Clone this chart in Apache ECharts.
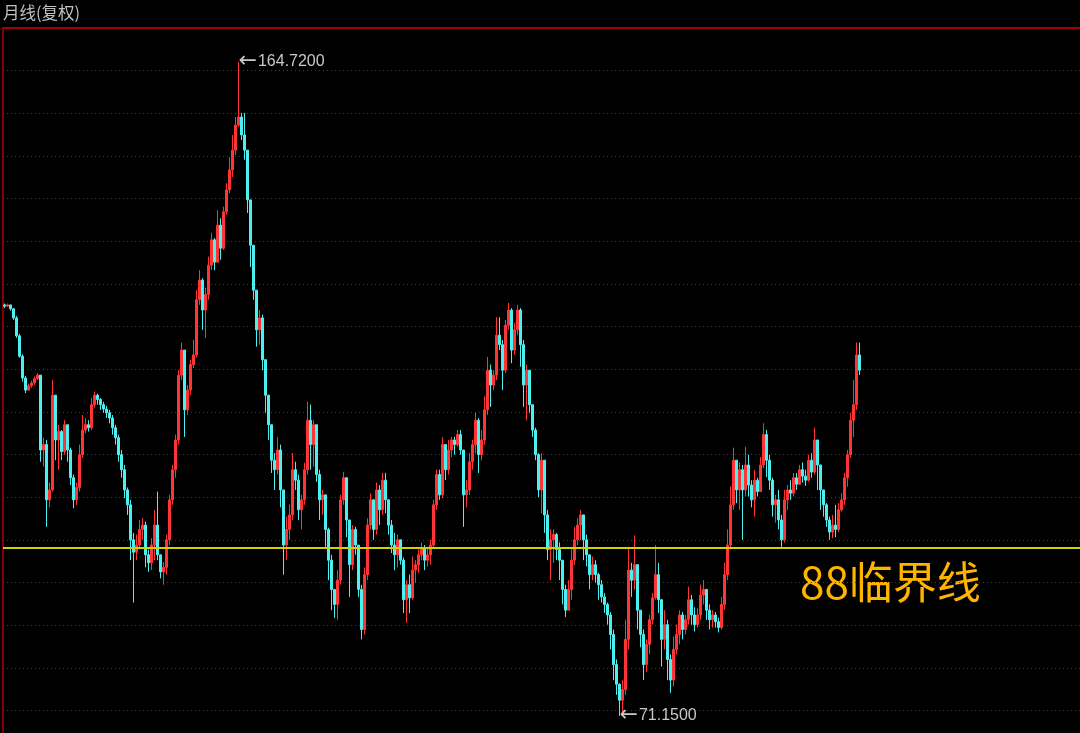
<!DOCTYPE html>
<html><head><meta charset="utf-8">
<script src="https://cdn.jsdelivr.net/npm/echarts@6/dist/echarts.min.js"></script>
<style>html,body{margin:0;padding:0;background:#000}#c{width:1080px;height:733px}</style>
</head><body><div id="c"></div>
<script>
// ---- data (monthly, adjusted prices; open = previous close) ----
const firstOpen = 120.6;
const closes = [
120.4,120.6,120.0,118.6,115.9,112.9,109.8,108.1,108.7,109.1,
109.7,110.2,100.1,100.8,93.9,95.1,107.4,101.4,102.5,99.9,
103.4,100.1,96.6,93.9,95.4,99.5,102.7,103.4,103.0,106.1,
107.4,106.8,106.1,105.5,105.0,104.3,103.0,101.7,99.5,97.6,
95.1,93.3,89.2,87.8,88.6,90.4,90.9,87.5,86.6,88.6,
90.9,87.5,85.6,86.1,89.2,93.9,97.6,101.4,110.2,113.8,
105.4,108.1,111.7,113.1,121.4,124.5,119.8,122.2,126.9,131.1,
127.4,133.6,129.7,135.9,139.8,143.4,147.1,151.9,153.5,150.0,
147.1,138.0,130.2,122.9,116.8,118.6,112.4,107.4,103.4,98.8,
97.6,100.1,95.1,88.6,90.4,92.1,97.6,96.3,92.7,93.9,
97.6,104.0,100.8,103.4,97.0,93.9,94.5,90.4,86.9,83.7,
82.1,84.7,93.9,96.6,91.5,86.4,90.4,88.6,83.7,79.5,
85.3,90.9,93.9,90.4,95.1,92.7,96.3,93.9,90.9,88.6,
87.5,89.2,86.9,82.6,84.2,82.8,85.8,86.4,87.5,88.3,
86.9,87.5,88.6,93.3,97.0,94.5,100.8,97.6,100.1,101.4,
100.8,102.1,100.1,94.5,95.1,98.6,100.8,104.0,99.5,101.4,
105.4,110.9,108.8,110.2,116.0,114.6,110.9,117.5,119.8,113.8,
116.8,119.8,114.6,108.8,110.9,106.1,102.7,99.5,95.1,98.8,
92.1,88.1,89.2,89.8,88.1,86.9,83.7,81.5,83.7,86.9,
89.2,90.9,92.1,89.2,87.5,85.3,86.4,85.3,84.2,82.9,
82.1,81.0,79.0,76.0,74.1,72.6,73.6,78.5,85.8,84.7,
86.4,81.5,79.0,76.0,78.0,80.5,82.8,85.3,82.6,78.5,
80.0,76.5,74.5,77.5,79.0,81.0,79.5,80.5,82.6,81.0,
80.0,81.0,83.1,83.7,81.5,80.5,81.0,80.3,79.7,82.1,
85.3,88.6,93.3,98.8,95.1,97.6,95.1,98.2,95.7,93.9,
96.3,94.9,98.2,102.1,98.8,96.3,93.3,93.9,91.5,89.2,
93.9,95.1,94.7,96.6,95.8,97.6,96.8,96.3,98.8,97.3,
101.4,98.2,95.1,93.3,91.5,90.1,90.9,90.4,92.7,93.9,
96.6,99.5,104.0,106.1,113.1,110.9
];
const highs = [
120.8,120.8,120.6,120.1,118.9,116.2,113.2,110.1,109.0,109.4,
110.0,110.5,110.2,101.7,101.4,96.0,109.5,106.8,103.4,102.7,
104.0,103.0,100.4,97.0,96.0,100.8,104.7,104.3,104.0,107.0,
107.9,107.6,107.0,106.5,105.9,105.4,104.7,103.4,102.1,100.1,
98.2,95.4,93.9,90.0,89.8,91.5,91.7,91.3,88.1,89.4,
92.7,94.9,87.5,86.7,89.8,94.5,98.2,102.1,110.9,114.9,
113.5,108.8,112.4,115.3,122.9,126.1,124.8,123.3,128.3,132.3,
131.4,136.2,134.8,136.8,141.0,145.8,150.0,153.5,164.72,154.3,
154.3,147.1,137.1,129.4,122.9,119.8,119.1,109.8,107.4,103.4,
99.7,101.8,100.8,95.1,91.9,93.3,99.7,98.6,97.0,94.5,
98.5,106.5,106.1,104.0,103.4,97.6,95.1,94.5,90.6,87.5,
83.7,85.8,94.5,97.3,96.3,91.5,90.9,90.7,88.6,84.2,
86.1,91.7,94.7,93.9,96.0,95.7,97.2,97.2,93.9,91.5,
90.0,89.8,89.2,87.2,84.7,85.3,87.3,86.9,88.1,88.9,
88.6,88.4,89.2,93.9,97.6,97.6,101.8,100.8,101.4,101.8,
101.8,102.7,102.7,100.1,96.3,99.7,101.4,105.0,104.3,102.7,
107.2,112.8,111.7,110.9,118.7,118.7,115.3,118.3,120.9,120.1,
117.8,120.6,120.1,115.3,111.7,110.9,106.1,103.0,99.7,99.7,
98.8,92.7,90.4,90.4,90.0,88.9,86.9,84.2,84.7,88.4,
90.7,91.7,92.7,92.1,89.8,87.5,87.3,86.9,85.5,84.7,
83.3,82.3,81.3,79.5,76.5,74.2,74.5,80.5,88.4,86.6,
89.7,85.8,81.5,79.5,78.5,81.0,83.3,88.6,86.6,81.5,
81.5,80.5,77.0,78.8,80.0,81.5,81.3,81.0,84.0,83.1,
81.8,81.7,84.2,84.7,83.1,82.1,81.5,81.3,80.7,82.9,
86.6,90.4,95.5,100.4,98.8,98.5,98.2,100.5,99.5,96.3,
97.6,96.6,99.2,103.6,102.7,99.5,96.6,94.5,95.1,92.1,
95.1,95.7,96.3,97.2,97.2,98.2,98.5,97.6,99.5,99.7,
103.0,101.4,98.2,95.1,93.5,91.9,92.1,93.3,93.5,94.7,
97.2,100.1,105.0,109.5,114.9,114.9
];
const lows = [
120.1,120.3,119.7,118.3,115.6,112.7,109.3,107.7,108.0,108.4,
108.8,109.5,98.6,98.0,90.7,93.0,94.9,98.8,97.6,98.8,
99.5,98.6,95.7,92.9,93.3,94.9,99.1,102.3,102.5,102.7,
105.7,106.1,105.4,105.0,104.3,103.6,102.1,100.8,98.6,96.6,
94.1,92.1,86.9,82.3,86.9,88.1,89.2,86.1,85.6,85.8,
86.9,86.9,84.9,84.2,85.3,88.6,93.3,96.6,100.8,109.5,
101.8,104.7,107.4,111.2,112.7,120.6,116.8,115.6,121.4,126.1,
126.1,127.4,127.8,129.4,135.4,139.2,142.1,146.2,151.5,149.0,
145.3,135.7,126.6,121.4,114.3,114.6,110.9,105.0,101.4,97.2,
95.1,97.0,93.0,85.3,86.9,89.2,91.5,95.1,91.5,90.4,
93.3,97.0,97.6,98.0,96.1,91.5,92.1,88.4,84.7,81.5,
80.7,80.5,84.2,93.3,89.5,82.9,85.8,87.5,82.9,78.5,
79.0,84.7,90.4,89.2,89.8,90.9,92.1,92.3,89.8,87.7,
85.8,86.1,86.4,81.2,80.2,81.2,82.6,84.4,85.5,86.9,
85.8,86.2,86.4,88.3,92.7,93.9,94.1,96.3,97.0,99.2,
99.5,100.5,99.5,90.7,93.0,94.5,97.6,99.7,97.2,98.8,
100.8,104.7,105.8,108.1,109.5,113.8,108.1,110.5,116.8,111.9,
113.1,116.0,111.4,105.8,104.0,105.0,101.8,98.8,94.2,92.3,
90.0,86.9,84.7,86.6,86.9,84.7,82.1,80.8,81.5,82.6,
86.4,88.6,89.2,86.9,86.2,83.7,84.7,84.4,82.6,82.3,
81.2,80.0,77.5,74.5,73.1,71.15,71.5,73.1,77.5,82.9,
83.7,79.5,77.7,74.5,75.3,77.0,80.0,82.6,81.2,75.8,
77.5,74.5,73.3,73.9,77.0,78.0,78.5,79.0,80.0,80.0,
79.3,79.7,80.5,82.1,80.5,79.5,79.7,79.7,79.2,79.5,
81.5,84.7,88.1,92.7,93.5,92.7,89.2,94.3,94.3,93.0,
91.9,94.3,94.9,97.8,96.7,95.1,91.9,91.2,90.4,88.4,
88.9,92.7,93.9,94.3,95.1,95.7,96.0,95.6,96.1,96.6,
97.0,95.1,92.7,91.9,90.7,89.2,89.4,89.5,90.1,92.5,
93.3,95.5,99.1,101.8,105.4,110.2
];
const slotCount = 359;          // category slots across the full panel width
const peakIndex = 78, peakValue = 164.72, peakText = '164.7200';
const troughIndex = 205, troughValue = 71.15, troughText = '71.1500';
const criticalLevel = 88.35;    // yellow "88" critical line
const criticalText = '88临界线';
const titleText = '月线(复权)';
const priceMin = 69.61, priceMax = 172.07;
const gridRows = 16.523;        // dotted grid rows in the panel

// ---- build ----
const categories = Array.from({length: slotCount}, (_, i) => String(i + 1));
const n = Math.min(closes.length, highs.length, lows.length);
const candles = [];
for (let i = 0; i < n; i++) {
  const o = i ? closes[i - 1] : firstOpen, c = closes[i];
  candles.push([o, c, Math.min(lows[i], o, c), Math.max(highs[i], o, c)]);
}
const UP = '#ff3434', DOWN = '#4cf0f0';
const arrowRich = {
  a: {fontFamily: 'DejaVu Sans', fontSize: 22, color: '#c8c8c8', padding: [0, 1, 2, 0]},
  t: {fontFamily: 'Liberation Sans', fontSize: 16, color: '#c8c8c8'}
};
const chart = echarts.init(document.getElementById('c'), null, {renderer: 'canvas'});
chart.setOption({
  backgroundColor: '#000',
  animation: false,
  title: {text: titleText, left: 3, top: 4, padding: 0,
    textStyle: {color: '#c0c0c0', fontSize: 16.5, fontWeight: 'normal', fontFamily: 'Noto Sans CJK SC'}},
  graphic: [{type: 'text', left: 800, top: 560, silent: true,
    style: {text: criticalText, fill: '#ffb400', font: '44px "Noto Sans CJK SC"'}}],
  grid: {left: 3, right: 0, top: 28, bottom: 0, containLabel: false},
  xAxis: {type: 'category', data: categories, position: 'top', offset: 1, boundaryGap: true,
    axisLine: {show: true, lineStyle: {color: '#a80000', width: 2}},
    axisTick: {show: false}, axisLabel: {show: false}, splitLine: {show: false}},
  yAxis: [
    {type: 'log', min: priceMin, max: priceMax, position: 'right', show: false,
      splitLine: {show: false}},
    {type: 'value', min: 0, max: gridRows, interval: 1, inverse: true, position: 'left',
      axisLine: {show: true, lineStyle: {color: '#b00000', width: 1.5}},
      axisTick: {show: false}, axisLabel: {show: false},
      splitLine: {show: true, lineStyle: {color: '#d00000', width: 1, type: [1, 3]}}}
  ],
  series: [{
    type: 'candlestick', xAxisIndex: 0, yAxisIndex: 0, data: candles, barWidth: 2,
    itemStyle: {color: UP, color0: DOWN, borderColor: UP, borderColor0: DOWN, borderWidth: 1},
    markPoint: {symbol: 'circle', symbolSize: 0, silent: true, animation: false,
      label: {show: true, position: 'right', distance: 0, rich: arrowRich},
      data: [
        {coord: [peakIndex, peakValue], value: peakValue,
          label: {formatter: '{a|\u2190}{t|' + peakText + '}'}},
        {coord: [troughIndex, troughValue], value: troughValue,
          label: {formatter: '{a|\u2190}{t|' + troughText + '}'}}
      ]},
    markLine: {symbol: ['none', 'none'], silent: true, animation: false, label: {show: false},
      lineStyle: {color: '#d2d200', width: 2, type: 'solid'},
      data: [{yAxis: criticalLevel}]}
  }]
});
</script></body></html>
